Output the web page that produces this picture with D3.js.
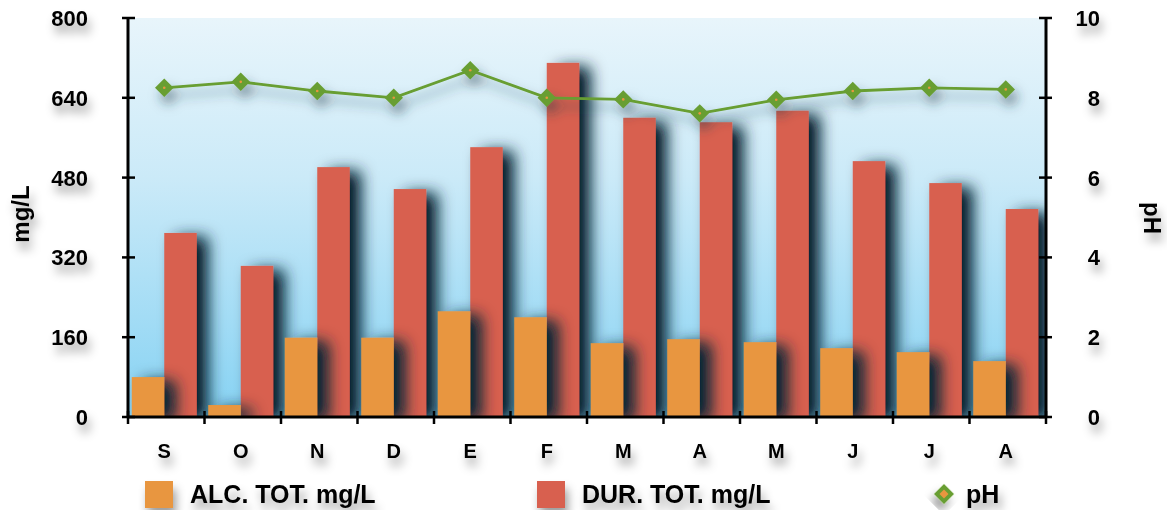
<!DOCTYPE html>
<html><head><meta charset="utf-8">
<script src="https://cdn.jsdelivr.net/npm/d3@7"></script>
<style>
body{margin:0;background:#fff;}
text{font-family:"Liberation Sans",Arial,sans-serif;font-weight:bold;fill:#000;}
</style></head>
<body>
<svg id="c" width="1167" height="510"></svg>
<script>
const months = ["S","O","N","D","E","F","M","A","M","J","J","A"];
const alc = [80,24,159,159,212,200,148,156,150,138,130,112];
const dur = [369,303,501,457,541,710,600,591,614,513,469,417];
const ph = [8.25,8.40,8.17,8.0,8.69,8.0,7.96,7.61,7.95,8.17,8.25,8.21];
const leftTicks = [0,160,320,480,640,800];
const rightTicks = [0,2,4,6,8,10];
const seriesNames = ["ALC. TOT. mg/L","DUR. TOT. mg/L","pH"];

const svg = d3.select("#c");
const L = 128, R = 1046, T = 18, B = 417;
const defs = svg.append("defs");

const g1 = defs.append("linearGradient").attr("id","bg").attr("x1",0).attr("y1",0).attr("x2",0).attr("y2",1);
g1.append("stop").attr("offset","0%").attr("stop-color","#e8f5fb");
g1.append("stop").attr("offset","40%").attr("stop-color","#cbeaf8");
g1.append("stop").attr("offset","100%").attr("stop-color","#86d2f3");

function shadow(id, dx, dy, sd, col, op){
  const f = defs.append("filter").attr("id",id).attr("x","-50%").attr("y","-50%").attr("width","200%").attr("height","200%");
  f.append("feDropShadow").attr("dx",dx).attr("dy",dy).attr("stdDeviation",sd).attr("flood-color",col).attr("flood-opacity",op);
}
shadow("txtSh", 3, 8, 5, "#000", 0.38);
shadow("lineSh", 4, 8, 6, "#1b3a4a", 0.55);

// bar shadow
const bf = defs.append("filter").attr("id","barSh").attr("filterUnits","userSpaceOnUse")
  .attr("x",0).attr("y",0).attr("width",1167).attr("height",510);
bf.append("feGaussianBlur").attr("in","SourceAlpha").attr("stdDeviation",8).attr("result","b");
bf.append("feOffset").attr("in","b").attr("dx",11).attr("dy",4).attr("result","o");
bf.append("feFlood").attr("flood-color","#0b2736").attr("result","f");
bf.append("feComposite").attr("in","f").attr("in2","o").attr("operator","in").attr("result","s");
const ct = bf.append("feComponentTransfer").attr("in","s").attr("result","s2");
ct.append("feFuncA").attr("type","linear").attr("slope",1.1);
bf.append("feMerge").selectAll("feMergeNode").data(["s2","SourceGraphic"]).join("feMergeNode").attr("in",d=>d);

const x = d3.scaleBand().domain(d3.range(months.length)).range([L,R]).padding(0);
const y = d3.scaleLinear().domain([0,800]).range([B,T]);
const y2 = d3.scaleLinear().domain([0,10]).range([B,T]);
const bw = 32.5;
const gx = i => x(i) + (x.bandwidth() - 2*bw)/2 - 2;

svg.append("rect").attr("x",L).attr("y",T).attr("width",R-L).attr("height",B-T).attr("fill","url(#bg)");

const cAlc = "#e8963f", cDur = "#d8604f", cPh = "#679e31";

defs.append("clipPath").attr("id","plot").append("rect").attr("x",L).attr("y",T-40).attr("width",R-L).attr("height",B-T+40);
const bars = svg.append("g").attr("clip-path","url(#plot)");
bars.selectAll("rect.d").data(dur).join("rect").attr("class","d")
  .attr("x",(d,i)=>gx(i)+bw).attr("y",d=>y(d)).attr("width",bw).attr("height",d=>B-y(d))
  .attr("fill",cDur).attr("filter","url(#barSh)");
bars.selectAll("rect.a").data(alc).join("rect").attr("class","a")
  .attr("x",(d,i)=>gx(i)).attr("y",d=>y(d)).attr("width",bw).attr("height",d=>B-y(d))
  .attr("fill",cAlc).attr("filter","url(#barSh)");

// pH line
const px = i => gx(i)+bw;
const lg = svg.append("g").attr("filter","url(#lineSh)");
lg.append("path").datum(ph).attr("fill","none").attr("stroke",cPh).attr("stroke-width",2.8)
  .attr("d", d3.line().x((d,i)=>px(i)).y(d=>y2(d)));
lg.selectAll("path.m").data(ph).join("path").attr("class","m")
  .attr("d", d3.symbol(d3.symbolSquare, 170))
  .attr("transform",(d,i)=>`translate(${px(i)},${y2(d)}) rotate(45)`)
  .attr("fill",cPh);
lg.selectAll("circle.m").data(ph).join("circle").attr("class","m")
  .attr("cx",(d,i)=>px(i)).attr("cy",d=>y2(d)).attr("r",1.3).attr("fill","#e8963f");

// axes
const ax = svg.append("g");
ax.append("line").attr("x1",L).attr("x2",L).attr("y1",T).attr("y2",B+1).attr("stroke","#000").attr("stroke-width",3);
ax.append("line").attr("x1",R).attr("x2",R).attr("y1",T).attr("y2",B+1).attr("stroke","#000").attr("stroke-width",3);
ax.append("line").attr("x1",L-1).attr("x2",R+1).attr("y1",B).attr("y2",B).attr("stroke","#000").attr("stroke-width",3);
ax.selectAll("line.lt").data(leftTicks).join("line").attr("class","lt")
  .attr("x1",L-6).attr("x2",L+7).attr("y1",d=>y(d)).attr("y2",d=>y(d)).attr("stroke","#000").attr("stroke-width",2.5);
ax.selectAll("line.rt").data(rightTicks).join("line").attr("class","rt")
  .attr("x1",R-7).attr("x2",R+6).attr("y1",d=>y2(d)).attr("y2",d=>y2(d)).attr("stroke","#000").attr("stroke-width",2.5);
ax.selectAll("line.bt").data(d3.range(months.length+1)).join("line").attr("class","bt")
  .attr("x1",i=>L+i*x.bandwidth()).attr("x2",i=>L+i*x.bandwidth()).attr("y1",B-6).attr("y2",B+7)
  .attr("stroke","#000").attr("stroke-width",2.5);

const tg = svg.append("g").attr("filter","url(#txtSh)");
tg.selectAll("text.l").data(leftTicks).join("text").attr("class","l")
  .attr("x",88).attr("y",d=>y(d)+8).attr("text-anchor","end").attr("font-size",22).text(d=>d);
tg.selectAll("text.r").data(rightTicks).join("text").attr("class","r")
  .attr("x",1100).attr("y",d=>y2(d)+8).attr("text-anchor","end").attr("font-size",22).text(d=>d);
tg.selectAll("text.c").data(months).join("text").attr("class","c")
  .attr("x",(d,i)=>px(i)).attr("y",458).attr("text-anchor","middle").attr("font-size",20).text(d=>d);
tg.append("text").attr("transform","translate(29,214) rotate(-90)").attr("text-anchor","middle").attr("font-size",24).text("mg/L");
tg.append("text").attr("transform","translate(1144,218) rotate(90)").attr("text-anchor","middle").attr("font-size",24).text("pH");

// legend
const leg = svg.append("g");
leg.append("rect").attr("x",145).attr("y",481).attr("width",28).attr("height",27).attr("fill",cAlc).attr("filter","url(#txtSh)");
leg.append("rect").attr("x",537).attr("y",481).attr("width",28).attr("height",27).attr("fill",cDur).attr("filter","url(#txtSh)");
leg.append("path").attr("d",d3.symbol(d3.symbolSquare,200)).attr("transform","translate(944,494) rotate(45)").attr("fill",cPh).attr("filter","url(#txtSh)");
leg.append("path").attr("d",d3.symbol(d3.symbolSquare,40)).attr("transform","translate(944,494) rotate(45)").attr("fill",cAlc);
const lt = svg.append("g").attr("filter","url(#txtSh)");
lt.append("text").attr("x",190).attr("y",503).attr("font-size",25).text(seriesNames[0]);
lt.append("text").attr("x",582).attr("y",503).attr("font-size",25).text(seriesNames[1]);
lt.append("text").attr("x",966).attr("y",503).attr("font-size",25).text(seriesNames[2]);
</script>
</body></html>
